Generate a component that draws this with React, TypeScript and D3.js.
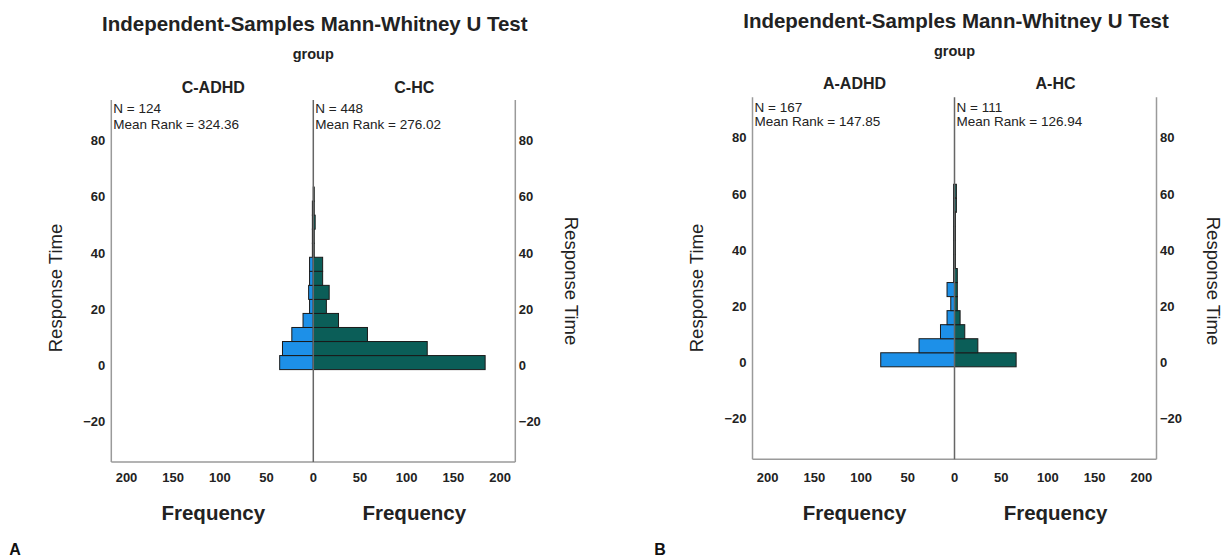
import React from "react";
import * as d3 from "d3";

// ---- data ----
const binStart = -1.5; // lower edge of first bin (Response Time)
const binWidth = 5;
const cAdhd = [36, 33, 23, 11, 4, 5, 4, 4, 1, 1, 1, 1, 0];
const cHc = [184, 122, 58, 27, 14, 17, 10, 10, 1, 1, 2, 1, 1];
const aAdhd = [79, 38, 15, 8, 4, 8, 1, 1, 1, 1, 1, 1, 1];
const aHc = [66, 25, 11, 6, 3, 3, 3, 1, 1, 1, 1, 2, 2];
const yTicks = [-20, 0, 20, 40, 60, 80];
const xTicks = [0, 50, 100, 150, 200];
const titleText = "Independent-Samples Mann-Whitney U Test";
const panelLabels = [
  { left: "C-ADHD", right: "C-HC", nL: 124, mrL: "324.36", nR: 448, mrR: "276.02", tag: "A" },
  { left: "A-ADHD", right: "A-HC", nL: 167, mrL: "147.85", nR: 111, mrR: "126.94", tag: "B" },
];
const panelData = [
  { adhd: cAdhd, hc: cHc },
  { adhd: aAdhd, hc: aHc },
];

// ---- layout ----
const FONT = "'Liberation Sans', Arial, sans-serif";
const BLUE = "#1d90e8";
const TEAL = "#0b5e58";
const layouts = [
  { cx: 313.3, dy: 0, titleY: 23, letterX: 15 },
  { cx: 954.5, dy: -2.8, titleY: 20, letterX: 660 },
];

function Panel({ idx }: { idx: number }) {
  const L = layouts[idx];
  const P = panelLabels[idx];
  const D = panelData[idx];
  const half = 202;
  const top = 100 + L.dy;
  const bottom = 462 + L.dy;
  const y = d3.scaleLinear().domain([-34.4, 94.5]).range([bottom, top]);
  const xR = d3.scaleLinear().domain([0, 216.3]).range([L.cx, L.cx + half]);
  const xL = d3.scaleLinear().domain([0, 216.3]).range([L.cx, L.cx - half]);
  const fL = L.cx - half;
  const fR = L.cx + half;
  const bins = D.adhd.map((_, i) => [binStart + i * binWidth, binStart + (i + 1) * binWidth]);
  const tickStyle = { fontFamily: FONT, fontWeight: 700, fontSize: 13, fill: "#222" } as const;
  return (
    <g>
      <text x={L.cx + 1.5} y={L.titleY} textAnchor="middle" dominantBaseline="central"
        style={{ fontFamily: FONT, fontWeight: 700, fontSize: 20.5, fill: "#222" }}>{titleText}</text>
      <text x={L.cx} y={L.titleY + 31} textAnchor="middle" dominantBaseline="central"
        style={{ fontFamily: FONT, fontWeight: 700, fontSize: 14.5, fill: "#222" }}>group</text>
      <text x={L.cx - 100} y={87 + L.dy * 1.3} textAnchor="middle" dominantBaseline="central"
        style={{ fontFamily: FONT, fontWeight: 700, fontSize: 16, fill: "#222" }}>{P.left}</text>
      <text x={L.cx + 101} y={87 + L.dy * 1.3} textAnchor="middle" dominantBaseline="central"
        style={{ fontFamily: FONT, fontWeight: 700, fontSize: 16, fill: "#222" }}>{P.right}</text>

      {/* bars */}
      {bins.map((b, i) => (
        <g key={i}>
          {D.adhd[i] > 0 && (
            <rect x={xL(D.adhd[i])} y={y(b[1])} width={xL(0) - xL(D.adhd[i])} height={y(b[0]) - y(b[1])}
              fill={BLUE} stroke="#1a1a1a" strokeWidth={1} />
          )}
          {D.hc[i] > 0 && (
            <rect x={xR(0)} y={y(b[1])} width={xR(D.hc[i]) - xR(0)} height={y(b[0]) - y(b[1])}
              fill={TEAL} stroke="#1a1a1a" strokeWidth={1} />
          )}
        </g>
      ))}

      {/* frame */}
      <line x1={fL} x2={fL} y1={top} y2={bottom} stroke="#9a9a9a" strokeWidth={1.5} />
      <line x1={fR} x2={fR} y1={top} y2={bottom} stroke="#9a9a9a" strokeWidth={1.5} />
      <line x1={fL} x2={fR} y1={bottom} y2={bottom} stroke="#9a9a9a" strokeWidth={1.5} />
      <line x1={L.cx} x2={L.cx} y1={top} y2={bottom} stroke="#666" strokeWidth={1.5} />

      {/* N / mean rank */}
      <text x={fL + 2} y={108 + L.dy * 0.3} dominantBaseline="central"
        style={{ fontFamily: FONT, fontSize: 13.5, fill: "#222" }}>{`N = ${P.nL}`}</text>
      <text x={fL + 2} y={124 + L.dy * 0.8} dominantBaseline="central"
        style={{ fontFamily: FONT, fontSize: 13.5, fill: "#222" }}>{`Mean Rank = ${P.mrL}`}</text>
      <text x={L.cx + 2} y={108 + L.dy * 0.3} dominantBaseline="central"
        style={{ fontFamily: FONT, fontSize: 13.5, fill: "#222" }}>{`N = ${P.nR}`}</text>
      <text x={L.cx + 2} y={124 + L.dy * 0.8} dominantBaseline="central"
        style={{ fontFamily: FONT, fontSize: 13.5, fill: "#222" }}>{`Mean Rank = ${P.mrR}`}</text>

      {/* y ticks */}
      {yTicks.map((t) => (
        <g key={t}>
          <text x={fL - 6} y={y(t)} textAnchor="end" dominantBaseline="central" style={tickStyle}>
            {t < 0 ? `\u2212${-t}` : t}
          </text>
          <text x={fR + 3.5} y={y(t)} textAnchor="start" dominantBaseline="central" style={tickStyle}>
            {t < 0 ? `\u2212${-t}` : t}
          </text>
        </g>
      ))}

      {/* x ticks */}
      {xTicks.map((t) => (
        <g key={t}>
          <text x={xL(t)} y={477} textAnchor="middle" dominantBaseline="central" style={tickStyle}>{t}</text>
          {t > 0 && (
            <text x={xR(t)} y={477} textAnchor="middle" dominantBaseline="central" style={tickStyle}>{t}</text>
          )}
        </g>
      ))}

      {/* axis titles */}
      <text x={L.cx - 100} y={512} textAnchor="middle" dominantBaseline="central"
        style={{ fontFamily: FONT, fontWeight: 700, fontSize: 20.5, fill: "#222" }}>Frequency</text>
      <text x={L.cx + 101} y={512} textAnchor="middle" dominantBaseline="central"
        style={{ fontFamily: FONT, fontWeight: 700, fontSize: 20.5, fill: "#222" }}>Frequency</text>
      <text transform={`translate(${L.cx - 258},288) rotate(-90)`} textAnchor="middle" dominantBaseline="central"
        style={{ fontFamily: FONT, fontSize: 18.5, fill: "#222" }}>Response Time</text>
      <text transform={`translate(${L.cx + 258.5},281) rotate(90)`} textAnchor="middle" dominantBaseline="central"
        style={{ fontFamily: FONT, fontSize: 18.5, fill: "#222" }}>Response Time</text>

      <text x={L.letterX} y={549} textAnchor="middle" dominantBaseline="central"
        style={{ fontFamily: FONT, fontWeight: 700, fontSize: 16, fill: "#111" }}>{P.tag}</text>
    </g>
  );
}

export default function App() {
  return (
    <svg width={1228} height={558} style={{ position: "absolute", left: 0, top: 0, background: "#fff" }}>
      <rect width={1228} height={558} fill="#fff" />
      <Panel idx={0} />
      <Panel idx={1} />
    </svg>
  );
}
